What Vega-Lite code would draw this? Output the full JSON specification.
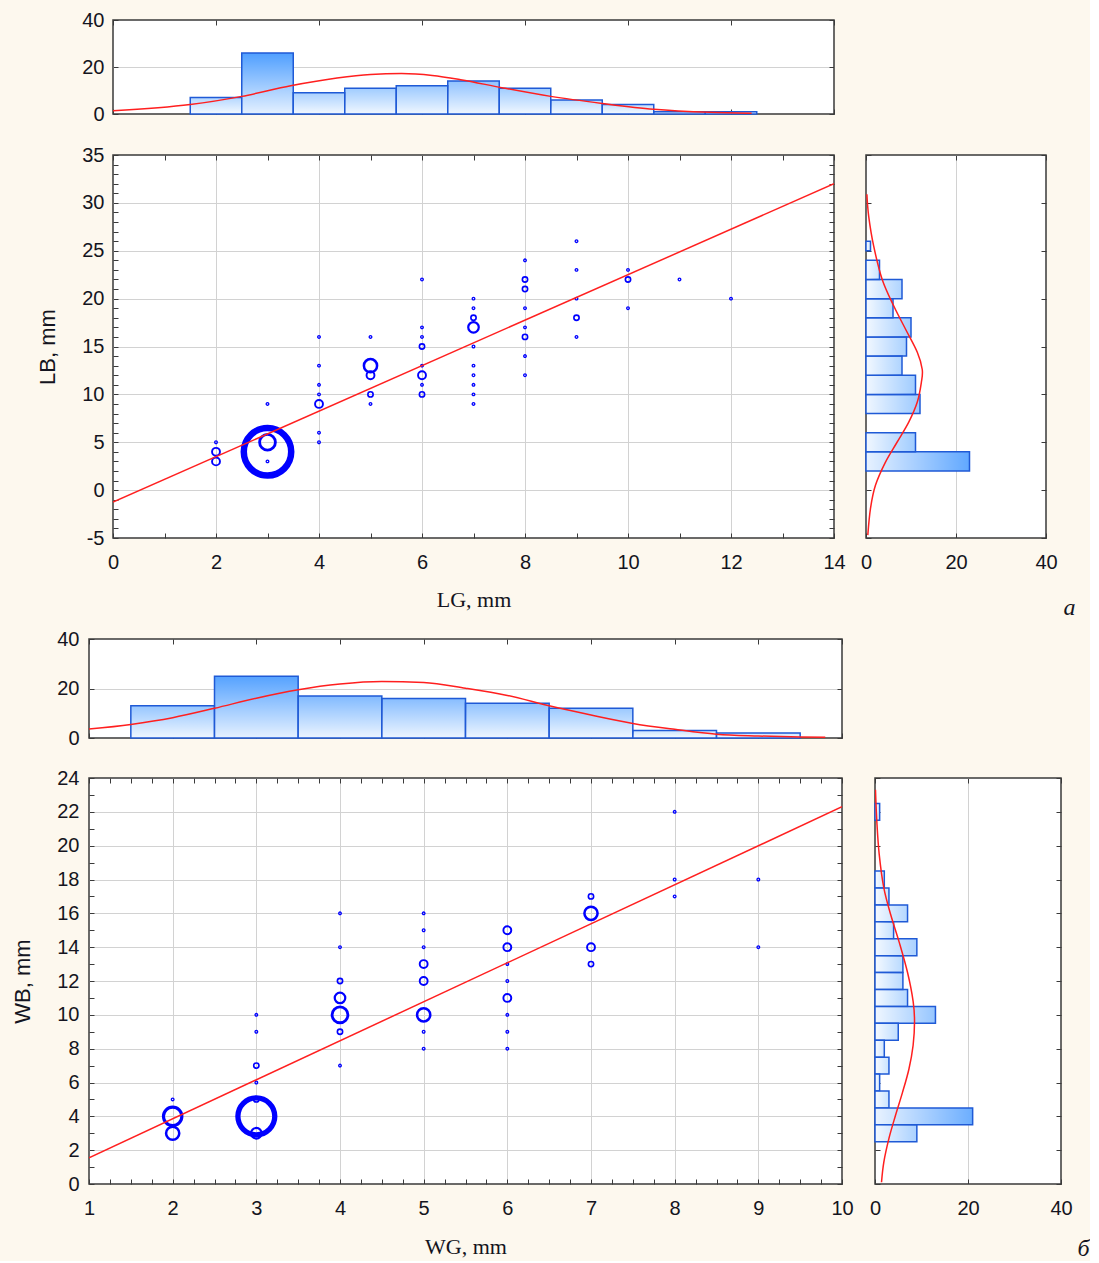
{
 "$schema": "https://vega.github.io/schema/vega-lite/v6.json",
 "background": "#fdf8ee",
 "padding": {"left": 11, "top": 9, "right": 0, "bottom": 0},
 "spacing": 8,
 "config": {
  "view": {"stroke": "#3a3a3a", "strokeWidth": 1.5, "fill": "#ffffff"},
  "axis": {"domain": false, "tickColor": "#3a3a3a", "tickWidth": 1, "tickSize": -5, "labelFont": "Liberation Sans", "labelFontSize": 20, "labelColor": "#141420", "gridColor": "#d2d2d2", "gridWidth": 1, "titleFont": "Liberation Sans", "titleFontSize": 22, "titleFontWeight": "normal", "titleColor": "#141420", "labelOverlap": false, "labelFlush": false, "labelBound": false}
 },
 "datasets": {
  "ptsA": [
   {"x":2,"y":5,"n":1},{"x":2,"y":4,"n":3},{"x":2,"y":3,"n":3},
   {"x":3,"y":9,"n":1},{"x":3,"y":5,"n":6},{"x":3,"y":4,"n":18},{"x":3,"y":3,"n":1},
   {"x":4,"y":16,"n":1},{"x":4,"y":13,"n":1},{"x":4,"y":11,"n":1},{"x":4,"y":10,"n":1},{"x":4,"y":9,"n":3},{"x":4,"y":6,"n":1},{"x":4,"y":5,"n":1},
   {"x":5,"y":16,"n":1},{"x":5,"y":13,"n":5},{"x":5,"y":12,"n":3},{"x":5,"y":10,"n":2},{"x":5,"y":9,"n":1},
   {"x":6,"y":22,"n":1},{"x":6,"y":17,"n":1},{"x":6,"y":16,"n":1},{"x":6,"y":15,"n":2},{"x":6,"y":13,"n":1},{"x":6,"y":12,"n":3},{"x":6,"y":11,"n":1},{"x":6,"y":10,"n":2},
   {"x":7,"y":20,"n":1},{"x":7,"y":19,"n":1},{"x":7,"y":18,"n":2},{"x":7,"y":17,"n":4},{"x":7,"y":15,"n":1},{"x":7,"y":13,"n":1},{"x":7,"y":12,"n":1},{"x":7,"y":11,"n":1},{"x":7,"y":10,"n":1},{"x":7,"y":9,"n":1},
   {"x":8,"y":24,"n":1},{"x":8,"y":22,"n":2},{"x":8,"y":21,"n":2},{"x":8,"y":19,"n":1},{"x":8,"y":17,"n":1},{"x":8,"y":16,"n":2},{"x":8,"y":14,"n":1},{"x":8,"y":12,"n":1},
   {"x":9,"y":26,"n":1},{"x":9,"y":23,"n":1},{"x":9,"y":20,"n":1},{"x":9,"y":18,"n":2},{"x":9,"y":16,"n":1},
   {"x":10,"y":23,"n":1},{"x":10,"y":22,"n":2},{"x":10,"y":19,"n":1},
   {"x":11,"y":22,"n":1},
   {"x":12,"y":20,"n":1}
  ],
  "regA": [{"x":0,"y":-1.25},{"x":14,"y":32.0}],
  "histTopA": [
   {"x0":1.5,"x1":2.5,"n":7},{"x0":2.5,"x1":3.5,"n":26},{"x0":3.5,"x1":4.5,"n":9},{"x0":4.5,"x1":5.5,"n":11},
   {"x0":5.5,"x1":6.5,"n":12},{"x0":6.5,"x1":7.5,"n":14},{"x0":7.5,"x1":8.5,"n":11},{"x0":8.5,"x1":9.5,"n":6},
   {"x0":9.5,"x1":10.5,"n":4},{"x0":10.5,"x1":11.5,"n":1},{"x0":11.5,"x1":12.5,"n":1}
  ],
  "curveTopA": [
   {"x":0,"y":1.4},{"x":1.5,"y":4.0},{"x":2.5,"y":7.5},{"x":3.45,"y":12.0},{"x":4.35,"y":15.3},{"x":5.0,"y":16.8},
   {"x":5.6,"y":17.2},{"x":6.2,"y":16.4},{"x":6.75,"y":14.6},{"x":7.55,"y":11.2},{"x":8.5,"y":7.5},{"x":9.5,"y":4.5},{"x":10.5,"y":2.0},{"x":11.6,"y":0.7},{"x":12.4,"y":0.3}
  ],
  "histRightA": [
   {"y0":2,"y1":4,"n":23},{"y0":4,"y1":6,"n":11},{"y0":8,"y1":10,"n":12},{"y0":10,"y1":12,"n":11},
   {"y0":12,"y1":14,"n":8},{"y0":14,"y1":16,"n":9},{"y0":16,"y1":18,"n":10},{"y0":18,"y1":20,"n":6},
   {"y0":20,"y1":22,"n":8},{"y0":22,"y1":24,"n":3},{"y0":25,"y1":26,"n":1}
  ],
  "curveRightA": [
   {"n":0.4,"y":-4.7},{"n":1.0,"y":-1.9},{"n":2.1,"y":0.5},{"n":4.3,"y":2.9},{"n":6.9,"y":5.0},{"n":9.5,"y":7.1},
   {"n":11.4,"y":9.2},{"n":12.3,"y":11.25},{"n":12.5,"y":12.6},{"n":11.4,"y":14.4},{"n":8.8,"y":16.8},{"n":6.2,"y":19.2},
   {"n":3.6,"y":22.0},{"n":1.7,"y":25.5},{"n":0.6,"y":28.6},{"n":0.2,"y":30.9}
  ],
  "ptsB": [
   {"x":2,"y":5,"n":1},{"x":2,"y":4,"n":7},{"x":2,"y":3,"n":5},
   {"x":3,"y":10,"n":1},{"x":3,"y":9,"n":1},{"x":3,"y":7,"n":2},{"x":3,"y":6,"n":1},{"x":3,"y":5,"n":2},{"x":3,"y":4,"n":14},{"x":3,"y":3,"n":4},
   {"x":4,"y":16,"n":1},{"x":4,"y":14,"n":1},{"x":4,"y":12,"n":2},{"x":4,"y":11,"n":4},{"x":4,"y":10,"n":6},{"x":4,"y":9,"n":2},{"x":4,"y":7,"n":1},
   {"x":5,"y":16,"n":1},{"x":5,"y":15,"n":1},{"x":5,"y":14,"n":1},{"x":5,"y":13,"n":3},{"x":5,"y":12,"n":3},{"x":5,"y":10,"n":5},{"x":5,"y":9,"n":1},{"x":5,"y":8,"n":1},
   {"x":6,"y":15,"n":3},{"x":6,"y":14,"n":3},{"x":6,"y":13,"n":1},{"x":6,"y":12,"n":1},{"x":6,"y":11,"n":3},{"x":6,"y":10,"n":1},{"x":6,"y":9,"n":1},{"x":6,"y":8,"n":1},
   {"x":7,"y":17,"n":2},{"x":7,"y":16,"n":5},{"x":7,"y":14,"n":3},{"x":7,"y":13,"n":2},
   {"x":8,"y":22,"n":1},{"x":8,"y":18,"n":1},{"x":8,"y":17,"n":1},
   {"x":9,"y":18,"n":1},{"x":9,"y":14,"n":1}
  ],
  "regB": [{"x":1,"y":1.55},{"x":10,"y":22.3}],
  "histTopB": [
   {"x0":1.5,"x1":2.5,"n":13},{"x0":2.5,"x1":3.5,"n":25},{"x0":3.5,"x1":4.5,"n":17},{"x0":4.5,"x1":5.5,"n":16},
   {"x0":5.5,"x1":6.5,"n":14},{"x0":6.5,"x1":7.5,"n":12},{"x0":7.5,"x1":8.5,"n":3},{"x0":8.5,"x1":9.5,"n":2}
  ],
  "curveTopB": [
   {"x":1.0,"y":3.6},{"x":1.5,"y":5.5},{"x":2.0,"y":8.2},{"x":2.5,"y":12.0},{"x":3.0,"y":16.1},{"x":3.5,"y":19.5},
   {"x":4.0,"y":21.8},{"x":4.5,"y":22.8},{"x":5.0,"y":22.4},{"x":5.5,"y":20.1},{"x":6.0,"y":17.2},{"x":6.5,"y":13.0},
   {"x":7.0,"y":9.3},{"x":7.5,"y":5.9},{"x":8.0,"y":3.5},{"x":8.5,"y":1.5},{"x":9.0,"y":0.8},{"x":9.5,"y":0.4},{"x":9.8,"y":0.3}
  ],
  "histRightB": [
   {"y0":21.5,"y1":22.5,"n":1},{"y0":17.5,"y1":18.5,"n":2},{"y0":16.5,"y1":17.5,"n":3},{"y0":15.5,"y1":16.5,"n":7},
   {"y0":14.5,"y1":15.5,"n":4},{"y0":13.5,"y1":14.5,"n":9},{"y0":12.5,"y1":13.5,"n":6},{"y0":11.5,"y1":12.5,"n":6},
   {"y0":10.5,"y1":11.5,"n":7},{"y0":9.5,"y1":10.5,"n":13},{"y0":8.5,"y1":9.5,"n":5},{"y0":7.5,"y1":8.5,"n":2},
   {"y0":6.5,"y1":7.5,"n":3},{"y0":5.5,"y1":6.5,"n":1},{"y0":4.5,"y1":5.5,"n":3},{"y0":3.5,"y1":4.5,"n":21},{"y0":2.5,"y1":3.5,"n":9}
  ],
  "curveRightB": [
   {"n":1.4,"y":0.1},{"n":1.9,"y":1.3},{"n":3.0,"y":2.7},{"n":4.4,"y":4.05},{"n":5.9,"y":5.4},{"n":7.3,"y":6.8},
   {"n":8.2,"y":8.2},{"n":8.5,"y":9.6},{"n":8.2,"y":10.8},{"n":7.0,"y":12.5},{"n":5.2,"y":14.3},{"n":3.4,"y":15.9},
   {"n":1.9,"y":17.5},{"n":0.9,"y":19.5},{"n":0.4,"y":21.4},{"n":0.1,"y":23.3}
  ],
  "empty": []
 },
 "vconcat": [
  {
   "bounds": "flush",
   "spacing": 0,
   "hconcat": [
    {"width": 24, "height": 10, "data": {"name": "empty"}, "mark": {"type": "rect", "opacity": 0}, "encoding": {}, "view": {"stroke": null, "fill": null}},
    {
     "bounds": "flush",
     "spacing": 41,
     "vconcat": [
      {
       "width": 721, "height": 94,
       "layer": [
        {"data": {"name": "histTopA"}, "mark": {"type": "rect"},
         "encoding": {
          "x": {"field": "x0", "type": "quantitative", "scale": {"domain": [0, 14], "nice": false, "zero": false},
                "axis": {"orient": "bottom", "values": [0,2,4,6,8,10,12,14], "labels": false, "grid": false, "title": null}},
          "x2": {"field": "x1"},
          "y": {"field": "n", "type": "quantitative", "scale": {"domain": [0, 40], "nice": false},
                "axis": {"orient": "left", "values": [0,20,40], "labelPadding": 14, "gridOpacity": {"condition": {"test": "datum.value === 20", "value": 1}, "value": 0}, "title": null}},
          "y2": {"datum": 0},
          "fill": {"field": "n", "type": "quantitative", "scale": {"domain": [0, 26], "range": ["#d8ebff", "#4f9fff"]}, "legend": null}
         }},
        {"data": {"name": "histTopA"},
         "mark": {"type": "rect", "stroke": "#1f5ad6", "strokeWidth": 1.5, "fill": {"gradient": "linear", "x1": 0, "y1": 1, "x2": 0, "y2": 0, "stops": [{"offset": 0, "color": "rgba(255,255,255,0.85)"}, {"offset": 1, "color": "rgba(255,255,255,0)"}]}},
         "encoding": {
          "x": {"field": "x0", "type": "quantitative", "scale": {"domain": [0, 14], "nice": false, "zero": false}, "axis": null},
          "x2": {"field": "x1"},
          "y": {"field": "n", "type": "quantitative", "scale": {"domain": [0, 40], "nice": false}, "axis": null},
          "y2": {"datum": 0}
         }},
        {"data": {"name": "curveTopA"}, "mark": {"type": "line", "color": "#ff1f1f", "strokeWidth": 1.5, "interpolate": "monotone", "clip": true},
         "encoding": {
          "x": {"field": "x", "type": "quantitative", "scale": {"domain": [0, 14], "nice": false, "zero": false},
                "axis": {"orient": "top", "values": [0,2,4,6,8,10,12,14], "labels": false, "grid": false, "title": null}},
          "y": {"field": "y", "type": "quantitative", "scale": {"domain": [0, 40], "nice": false},
                "axis": {"orient": "right", "values": [0,20,40], "labels": false, "grid": false, "title": null}}
         }}
       ],
       "resolve": {"axis": {"x": "independent", "y": "independent"}}
      },
      {
       "bounds": "flush",
       "spacing": 32,
       "hconcat": [
        {
         "width": 721, "height": 383,
         "layer": [
          {"data": {"name": "ptsA"}, "mark": {"type": "point", "shape": "circle", "filled": false, "stroke": "#0000ff", "opacity": 1},
           "encoding": {
            "x": {"field": "x", "type": "quantitative", "scale": {"domain": [0, 14], "nice": false, "zero": false},
                  "axis": {"orient": "bottom", "values": [0,1,2,3,4,5,6,7,8,9,10,11,12,13,14], "labelExpr": "datum.value % 2 === 0 ? '' + datum.value : ''",
                           "gridOpacity": {"condition": {"test": "datum.value % 2 === 0 && datum.value > 0 && datum.value < 14", "value": 1}, "value": 0},
                           "labelPadding": 19, "title": "LG, mm", "titleFont": "Liberation Serif", "titlePadding": 17}},
            "y": {"field": "y", "type": "quantitative", "scale": {"domain": [-5, 35], "nice": false, "zero": false},
                  "axis": {"orient": "left", "values": [-5,-4,-3,-2,-1,0,1,2,3,4,5,6,7,8,9,10,11,12,13,14,15,16,17,18,19,20,21,22,23,24,25,26,27,28,29,30,31,32,33,34,35],
                           "labelExpr": "datum.value % 5 === 0 ? '' + datum.value : ''",
                           "gridOpacity": {"condition": {"test": "datum.value % 5 === 0 && datum.value > -5 && datum.value < 35", "value": 1}, "value": 0},
                           "labelPadding": 14, "title": "LB, mm", "titlePadding": 22}},
            "size": {"field": "n", "type": "quantitative", "scale": {"type": "pow", "exponent": 2, "domain": [0, 18], "range": [0, 2250]}, "legend": null},
            "strokeWidth": {"field": "n", "type": "quantitative", "scale": {"domain": [1, 18], "range": [1.3, 6.5]}, "legend": null}
           }},
          {"data": {"name": "regA"}, "mark": {"type": "line", "color": "#ff2020", "strokeWidth": 1.5, "clip": true},
           "encoding": {
            "x": {"field": "x", "type": "quantitative", "scale": {"domain": [0, 14], "nice": false, "zero": false},
                  "axis": {"orient": "top", "values": [0,1,2,3,4,5,6,7,8,9,10,11,12,13,14], "labels": false, "grid": false, "title": null}},
            "y": {"field": "y", "type": "quantitative", "scale": {"domain": [-5, 35], "nice": false, "zero": false},
                  "axis": {"orient": "right", "values": [-5,-4,-3,-2,-1,0,1,2,3,4,5,6,7,8,9,10,11,12,13,14,15,16,17,18,19,20,21,22,23,24,25,26,27,28,29,30,31,32,33,34,35], "labels": false, "grid": false, "title": null}}
           }}
         ],
         "resolve": {"axis": {"x": "independent", "y": "independent"}}
        },
        {
         "width": 180, "height": 383,
         "layer": [
          {"data": {"name": "histRightA"}, "mark": {"type": "rect"},
           "encoding": {
            "y": {"field": "y0", "type": "quantitative", "scale": {"domain": [-5, 35], "nice": false, "zero": false},
                  "axis": {"orient": "left", "values": [-5,0,5,10,15,20,25,30,35], "labels": false, "grid": false, "title": null}},
            "y2": {"field": "y1"},
            "x": {"field": "n", "type": "quantitative", "scale": {"domain": [0, 40], "nice": false},
                  "axis": {"orient": "bottom", "values": [0,20,40], "labelPadding": 19,
                           "gridOpacity": {"condition": {"test": "datum.value === 20", "value": 1}, "value": 0},
                           "title": "а", "titleFont": "Liberation Serif", "titleFontStyle": "italic", "titleFontSize": 24, "titleX": 203, "titleY": 69, "titleAlign": "center", "titleBaseline": "middle", "titleAngle": 0}},
            "x2": {"datum": 0},
            "fill": {"field": "n", "type": "quantitative", "scale": {"domain": [0, 23], "range": ["#d8ebff", "#4f9fff"]}, "legend": null}
           }},
          {"data": {"name": "histRightA"},
           "mark": {"type": "rect", "stroke": "#1f5ad6", "strokeWidth": 1.5, "fill": {"gradient": "linear", "x1": 0, "y1": 0, "x2": 1, "y2": 0, "stops": [{"offset": 0, "color": "rgba(255,255,255,0.85)"}, {"offset": 1, "color": "rgba(255,255,255,0)"}]}},
           "encoding": {
            "y": {"field": "y0", "type": "quantitative", "scale": {"domain": [-5, 35], "nice": false, "zero": false}, "axis": null},
            "y2": {"field": "y1"},
            "x": {"field": "n", "type": "quantitative", "scale": {"domain": [0, 40], "nice": false}, "axis": null},
            "x2": {"datum": 0}
           }},
          {"data": {"name": "curveRightA"}, "mark": {"type": "line", "color": "#ff1f1f", "strokeWidth": 1.5, "interpolate": "cardinal", "clip": true},
           "encoding": {
            "x": {"field": "n", "type": "quantitative", "scale": {"domain": [0, 40], "nice": false},
                  "axis": {"orient": "top", "values": [0,20,40], "labels": false, "grid": false, "title": null}},
            "y": {"field": "y", "type": "quantitative", "scale": {"domain": [-5, 35], "nice": false, "zero": false},
                  "axis": {"orient": "right", "values": [-5,0,5,10,15,20,25,30,35], "labels": false, "grid": false, "title": null}},
            "order": {"field": "y", "type": "quantitative"}
           }}
         ],
         "resolve": {"axis": {"x": "independent", "y": "independent"}}
        }
       ]
      }
     ]
    }
   ]
  },
  {
   "bounds": "flush",
   "spacing": 40,
   "vconcat": [
    {
     "width": 753, "height": 99,
     "layer": [
      {"data": {"name": "histTopB"}, "mark": {"type": "rect"},
       "encoding": {
        "x": {"field": "x0", "type": "quantitative", "scale": {"domain": [1, 10], "nice": false, "zero": false},
              "axis": {"orient": "bottom", "values": [1,2,3,4,5,6,7,8,9,10], "labels": false, "grid": false, "title": null}},
        "x2": {"field": "x1"},
        "y": {"field": "n", "type": "quantitative", "scale": {"domain": [0, 40], "nice": false},
              "axis": {"orient": "left", "values": [0,20,40], "labelPadding": 15, "gridOpacity": {"condition": {"test": "datum.value === 20", "value": 1}, "value": 0}, "title": null}},
        "y2": {"datum": 0},
        "fill": {"field": "n", "type": "quantitative", "scale": {"domain": [0, 25], "range": ["#d8ebff", "#4f9fff"]}, "legend": null}
       }},
      {"data": {"name": "histTopB"},
       "mark": {"type": "rect", "stroke": "#1f5ad6", "strokeWidth": 1.5, "fill": {"gradient": "linear", "x1": 0, "y1": 1, "x2": 0, "y2": 0, "stops": [{"offset": 0, "color": "rgba(255,255,255,0.85)"}, {"offset": 1, "color": "rgba(255,255,255,0)"}]}},
       "encoding": {
        "x": {"field": "x0", "type": "quantitative", "scale": {"domain": [1, 10], "nice": false, "zero": false}, "axis": null},
        "x2": {"field": "x1"},
        "y": {"field": "n", "type": "quantitative", "scale": {"domain": [0, 40], "nice": false}, "axis": null},
        "y2": {"datum": 0}
       }},
      {"data": {"name": "curveTopB"}, "mark": {"type": "line", "color": "#ff1f1f", "strokeWidth": 1.5, "interpolate": "monotone", "clip": true},
       "encoding": {
        "x": {"field": "x", "type": "quantitative", "scale": {"domain": [1, 10], "nice": false, "zero": false},
              "axis": {"orient": "top", "values": [1,2,3,4,5,6,7,8,9,10], "labels": false, "grid": false, "title": null}},
        "y": {"field": "y", "type": "quantitative", "scale": {"domain": [0, 40], "nice": false},
              "axis": {"orient": "right", "values": [0,20,40], "labels": false, "grid": false, "title": null}}
       }}
     ],
     "resolve": {"axis": {"x": "independent", "y": "independent"}}
    },
    {
     "bounds": "flush",
     "spacing": 33,
     "hconcat": [
      {
       "width": 753, "height": 406,
       "layer": [
        {"data": {"name": "ptsB"}, "mark": {"type": "point", "shape": "circle", "filled": false, "stroke": "#0000ff", "opacity": 1},
         "encoding": {
          "x": {"field": "x", "type": "quantitative", "scale": {"domain": [1, 10], "nice": false, "zero": false},
                "axis": {"orient": "bottom", "values": [1,1.25,1.5,1.75,2,2.25,2.5,2.75,3,3.25,3.5,3.75,4,4.25,4.5,4.75,5,5.25,5.5,5.75,6,6.25,6.5,6.75,7,7.25,7.5,7.75,8,8.25,8.5,8.75,9,9.25,9.5,9.75,10],
                         "labelExpr": "datum.value % 1 === 0 ? '' + datum.value : ''",
                         "gridOpacity": {"condition": {"test": "datum.value % 1 === 0 && datum.value > 1 && datum.value < 10", "value": 1}, "value": 0},
                         "labelPadding": 19, "title": "WG, mm", "titleFont": "Liberation Serif", "titlePadding": 18}},
          "y": {"field": "y", "type": "quantitative", "scale": {"domain": [0, 24], "nice": false, "zero": false},
                "axis": {"orient": "left", "values": [0,1,2,3,4,5,6,7,8,9,10,11,12,13,14,15,16,17,18,19,20,21,22,23,24],
                         "labelExpr": "datum.value % 2 === 0 ? '' + datum.value : ''",
                         "gridOpacity": {"condition": {"test": "datum.value % 2 === 0 && datum.value > 0 && datum.value < 24", "value": 1}, "value": 0},
                         "labelPadding": 15, "title": "WB, mm", "titlePadding": 22}},
          "size": {"field": "n", "type": "quantitative", "scale": {"type": "pow", "exponent": 2, "domain": [0, 14], "range": [0, 2350]}, "legend": null},
          "strokeWidth": {"field": "n", "type": "quantitative", "scale": {"domain": [1, 14], "range": [1.3, 7.5]}, "legend": null}
         }},
        {"data": {"name": "regB"}, "mark": {"type": "line", "color": "#ff2020", "strokeWidth": 1.5, "clip": true},
         "encoding": {
          "x": {"field": "x", "type": "quantitative", "scale": {"domain": [1, 10], "nice": false, "zero": false},
                "axis": {"orient": "top", "values": [1,1.25,1.5,1.75,2,2.25,2.5,2.75,3,3.25,3.5,3.75,4,4.25,4.5,4.75,5,5.25,5.5,5.75,6,6.25,6.5,6.75,7,7.25,7.5,7.75,8,8.25,8.5,8.75,9,9.25,9.5,9.75,10], "labels": false, "grid": false, "title": null}},
          "y": {"field": "y", "type": "quantitative", "scale": {"domain": [0, 24], "nice": false, "zero": false},
                "axis": {"orient": "right", "values": [0,1,2,3,4,5,6,7,8,9,10,11,12,13,14,15,16,17,18,19,20,21,22,23,24], "labels": false, "grid": false, "title": null}}
         }}
       ],
       "resolve": {"axis": {"x": "independent", "y": "independent"}}
      },
      {
       "width": 186, "height": 406,
       "layer": [
        {"data": {"name": "histRightB"}, "mark": {"type": "rect"},
         "encoding": {
          "y": {"field": "y0", "type": "quantitative", "scale": {"domain": [0, 24], "nice": false, "zero": false},
                "axis": {"orient": "left", "values": [0,2,4,6,8,10,12,14,16,18,20,22,24], "labels": false, "grid": false, "title": null}},
          "y2": {"field": "y1"},
          "x": {"field": "n", "type": "quantitative", "scale": {"domain": [0, 40], "nice": false},
                "axis": {"orient": "bottom", "values": [0,20,40], "labelPadding": 19,
                         "gridOpacity": {"condition": {"test": "datum.value === 20", "value": 1}, "value": 0},
                         "title": "б", "titleFont": "Liberation Serif", "titleFontStyle": "italic", "titleFontSize": 24, "titleX": 208, "titleY": 64, "titleAlign": "center", "titleBaseline": "middle", "titleAngle": 0}},
          "x2": {"datum": 0},
          "fill": {"field": "n", "type": "quantitative", "scale": {"domain": [0, 21], "range": ["#d8ebff", "#4f9fff"]}, "legend": null}
         }},
        {"data": {"name": "histRightB"},
         "mark": {"type": "rect", "stroke": "#1f5ad6", "strokeWidth": 1.5, "fill": {"gradient": "linear", "x1": 0, "y1": 0, "x2": 1, "y2": 0, "stops": [{"offset": 0, "color": "rgba(255,255,255,0.85)"}, {"offset": 1, "color": "rgba(255,255,255,0)"}]}},
         "encoding": {
          "y": {"field": "y0", "type": "quantitative", "scale": {"domain": [0, 24], "nice": false, "zero": false}, "axis": null},
          "y2": {"field": "y1"},
          "x": {"field": "n", "type": "quantitative", "scale": {"domain": [0, 40], "nice": false}, "axis": null},
          "x2": {"datum": 0}
         }},
        {"data": {"name": "curveRightB"}, "mark": {"type": "line", "color": "#ff1f1f", "strokeWidth": 1.5, "interpolate": "cardinal", "clip": true},
         "encoding": {
          "x": {"field": "n", "type": "quantitative", "scale": {"domain": [0, 40], "nice": false},
                "axis": {"orient": "top", "values": [0,20,40], "labels": false, "grid": false, "title": null}},
          "y": {"field": "y", "type": "quantitative", "scale": {"domain": [0, 24], "nice": false, "zero": false},
                "axis": {"orient": "right", "values": [0,2,4,6,8,10,12,14,16,18,20,22,24], "labels": false, "grid": false, "title": null}},
          "order": {"field": "y", "type": "quantitative"}
         }}
       ],
       "resolve": {"axis": {"x": "independent", "y": "independent"}}
      }
     ]
    }
   ]
  }
 ]
}
